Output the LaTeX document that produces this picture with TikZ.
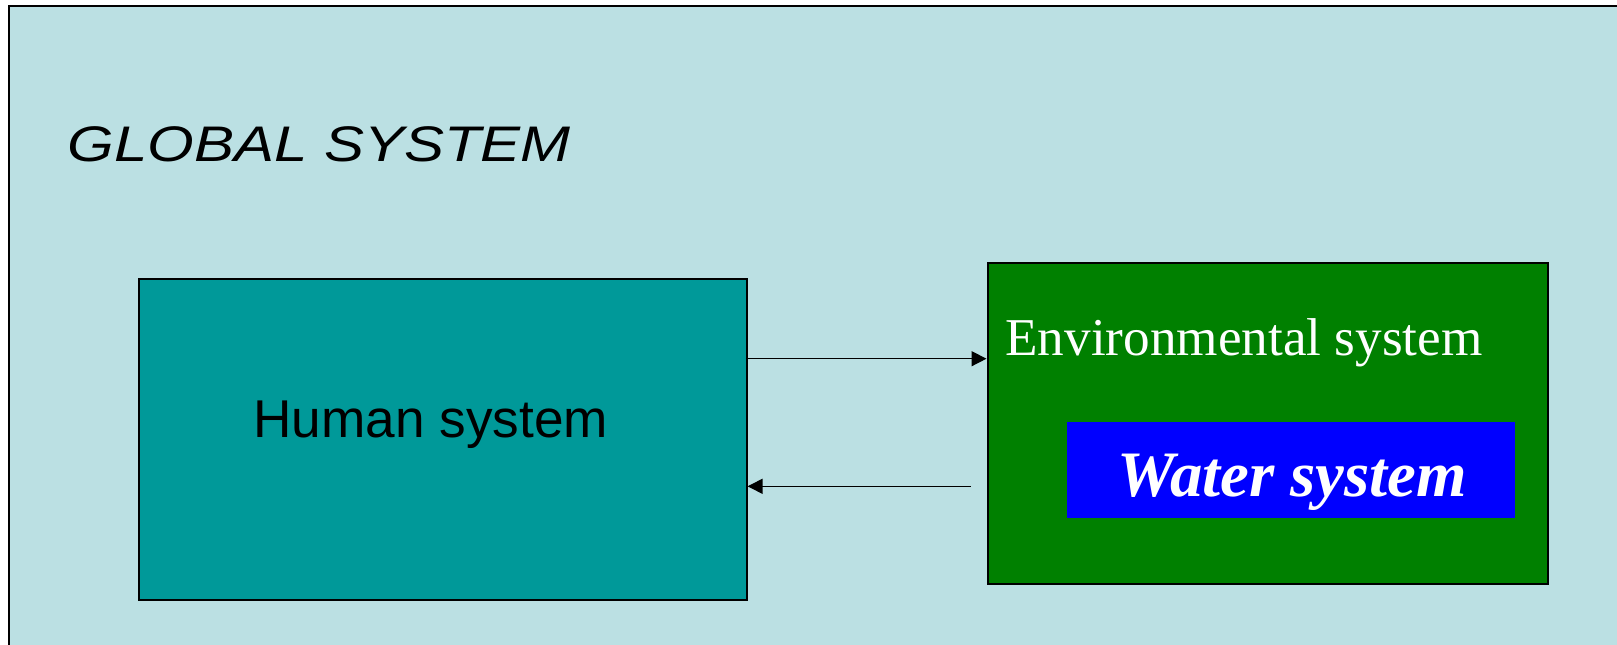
\documentclass[tikz,border=0pt]{standalone}
\usepackage{fontspec}
\setmainfont{Liberation Serif}
\setsansfont{Liberation Sans}
\newfontfamily\titlefont[FakeStretch=1.2]{Liberation Sans}
\usetikzlibrary{arrows.meta}
\definecolor{bgblue}{HTML}{BBE0E3}
\definecolor{humanteal}{HTML}{009999}
\definecolor{envgreen}{HTML}{008000}
\definecolor{waterblue}{HTML}{0000FF}
\tikzset{
  boxstyle/.style={draw=black, line width=1pt, inner sep=0pt, anchor=north west},
  arr/.style={draw=black, line width=0.75pt, -{Triangle[length=7.5pt,width=7.5pt]}},
}
\begin{document}
\begin{tikzpicture}[x=0.5pt,y=-0.5pt]
\useasboundingbox (0,0) rectangle (1617,644);
\begin{scope}
\clip (0,0) rectangle (1617,644);
\fill[white] (0,0) rectangle (1617,644);
\draw[fill=bgblue, line width=1pt] (9,6) rectangle (1700,720);
\end{scope}
\node[anchor=base west, inner sep=0pt, font=\titlefont\itshape\fontsize{25pt}{30pt}\selectfont] (gtitle) at (67,161.5) {GLOBAL SYSTEM};
\node[boxstyle, fill=humanteal, minimum width=303.8pt, minimum height=160.75pt] (human) at (138,277.5) {};
\node[anchor=base west, inner sep=0pt, font=\sffamily\fontsize{26.6pt}{31pt}\selectfont] (htext) at (253,437) {Human system};
\node[boxstyle, fill=envgreen, minimum width=280pt, minimum height=160.25pt] (env) at (986.5,262) {};
\node[anchor=base west, inner sep=0pt, text=white, font=\rmfamily\fontsize{26.6pt}{31pt}\selectfont] (etext) at (1005,355.5) {Environmental system};
\node[anchor=north west, inner sep=0pt, fill=waterblue, minimum width=224.3pt, minimum height=48pt] (water) at (1066.3,421.8) {};
\node[anchor=base west, inner sep=0pt, text=white, font=\rmfamily\bfseries\itshape\fontsize{32.4pt}{38pt}\selectfont] (wtext) at (1117,496) {Water system};
\coordinate (a1s) at (745.7,358.7);
\coordinate (a2s) at (970.7,486.3);
\draw[arr] (a1s) -- (a1s -| env.west);
\draw[arr] (a2s) -- (a2s -| human.east);
\end{tikzpicture}
\end{document}
